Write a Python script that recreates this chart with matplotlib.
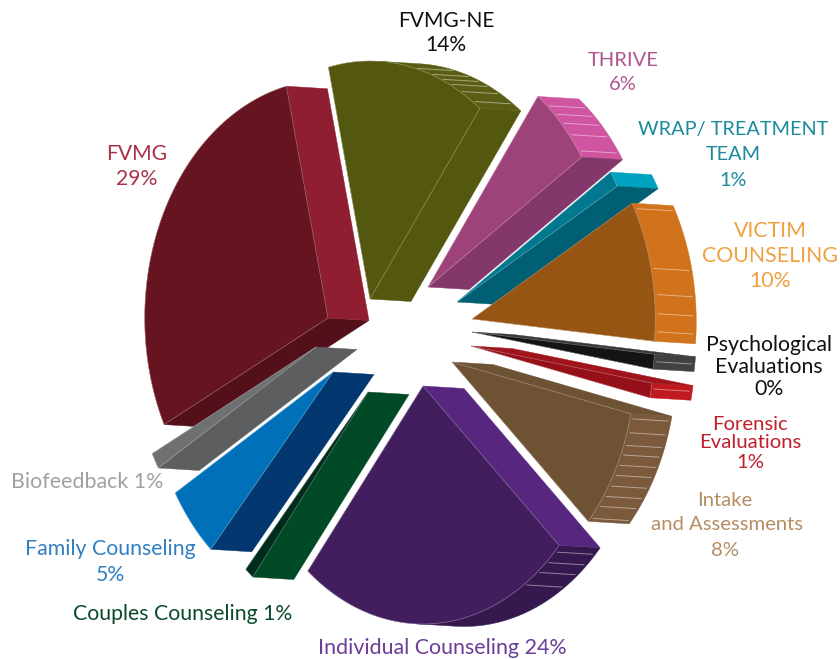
import numpy as np
import matplotlib
matplotlib.use('Agg')
import matplotlib.pyplot as plt

plt.rcParams['font.family'] = ['Lato', 'DejaVu Sans']

## data, clockwise from the FVMG slice
categories = ['FVMG', 'FVMG-NE', 'THRIVE', 'WRAP/ TREATMENT TEAM', 'VICTIM COUNSELING',
              'Psychological Evaluations', 'Forensic Evaluations', 'Intake and Assessments',
              'Individual Counseling', 'Couples Counseling', 'Family Counseling', 'Biofeedback']
printed_pct = [29, 14, 6, 1, 10, 0, 1, 8, 24, 1, 5, 1]
# shares as measured off the wedges, the printed numbers are rounded
shares = [28.8, 13.9, 5.6, 1.1, 9.6, 1.0, 1.0, 8.2, 24.2, 0.8, 4.9, 1.1]

## look of the slices
start_angle = 206.6
radius = 238
squash = 0.77
depth = (41, 2.5)
tips = [(328, 318), (370, 299), (428, 287), (457, 302), (472, 319), (472, 332),
        (471, 346), (452, 362), (423, 386), (368, 392), (333, 372), (316, 347)]
face_col = ['#661520', '#54580f', '#9e437a', '#00788f', '#965513', '#141414',
            '#96101a', '#6d5233', '#421e5f', '#002c1c', '#0070b8', '#6f7072']
start_wall = ['#54101a', '#54580f', '#9e437a', '#00788f', '#965513', '#3a3a3c',
              '#a0141c', '#6d5233', '#572780', '#004a27', '#02386f', '#5d5e60']
end_wall = ['#8f1f30', '#54580f', '#84376a', '#005f73', '#965513', '#141414',
            '#96101a', '#6d5233', '#421e5f', '#004a27', '#0070b8', '#6f7072']
rim_col = ['#8f1f30', '#5a5e14', '#cf55a0', '#00a3bf', '#d1731c', '#404143',
           '#bf1a20', '#7a5a3b', '#35194e', '#004a27', '#02386f', '#5d5e60']
# where the pale rules sit, as fractions of the rim's height
rim_rules = [[], [.15, .28, .38, .49, .64, .85], [.15, .29, .44, .63, .89], [],
             [.04, .47, .66, .80, .93], [.5], [.4],
             [.05, .18, .29, .38, .48, .57, .67, .77, .86, .97],
             [.09, .21, .34, .51], [], [], []]

label_col = ['#a83248', '#111111', '#b0558f', '#1a8a9c', '#f0a040', '#111111',
             '#c0202c', '#b58d62', '#6a3d96', '#0b4a2b', '#2f7fc1', '#a0a0a0']
label_lines = [['FVMG', '{}%'], ['FVMG-NE', '{}%'], ['THRIVE', '{}%'],
               ['WRAP/ TREATMENT', 'TEAM', '{}%'], ['VICTIM', 'COUNSELING', '{}%'],
               ['Psychological', 'Evaluations', '{}%'], ['Forensic', 'Evaluations', '{}%'],
               ['Intake', ' and Assessments', '{}%'], ['Individual Counseling {}%'],
               ['Couples Counseling {}%'], ['Family Counseling', '{}%'], ['Biofeedback {}%']]
label_pos = [(137, 154), (446, 21), (623, 61), (733, 130), (770, 231), (769, 345),
             (750, 424), (725, 500), (442, 648), (183, 614), (110, 549), (87, 482)]
line_gap = [25, 24, 24, 25, 25, 22, 19, 25, 0, 0, 26, 0]
label_size = [15.2, 15.1, 14.5, 14.3, 15.3, 15.3, 14.6, 14.6, 15.4, 15.3, 15.3, 15.4]


def arc(tip, a0, a1, n=120):
    t = np.radians(np.linspace(a0, a1, n))
    pts = np.column_stack((tip[0] + radius * squash * np.cos(t),
                           tip[1] - radius * np.sin(t)))
    # only the part of the rim turned towards the viewer
    facing = np.cos(t) / squash * depth[0] - np.sin(t) * depth[1] > 0
    return pts, facing


def cross(a, b):
    return a[0] * b[1] - a[1] * b[0]


fig = plt.figure(figsize=(8.4, 6.6), dpi=100)
ax = fig.add_axes([0, 0, 1, 1])
ax.set_xlim(0, 840)
ax.set_ylim(660, 0)
ax.axis('off')

edges = start_angle - np.cumsum([0] + shares) * 360.0 / sum(shares)
shift = np.array(depth)

for i in range(len(shares)):
    tip = np.array(tips[i], dtype=float)
    rim, facing = arc(tip, edges[i], edges[i + 1])
    first, last = rim[0], rim[-1]

    seen = rim[facing]
    if len(seen) > 1:
        ax.fill(*np.vstack((seen, (seen + shift)[::-1])).T, color=rim_col[i], lw=0.3)
        # thin pale rules across the rim
        for f in rim_rules[i]:
            y = seen[:, 1].min() + f * np.ptp(seen[:, 1])
            p = seen[np.argmin(np.abs(seen[:, 1] - y))]
            ax.plot([p[0] + 3, p[0] + shift[0] - 3], [p[1] + 0.2, p[1] + shift[1] - 0.2],
                    color='white', alpha=0.45, lw=0.7)

    # a radial wall shows only when the depth points away from the face
    if cross(first - tip, shift) * cross(first - tip, last - tip) < 0:
        ax.fill(*np.vstack((tip, first, first + shift, tip + shift)).T, color=start_wall[i], lw=0.3)
    if cross(last - tip, shift) * cross(last - tip, first - tip) < 0:
        ax.fill(*np.vstack((tip, last, last + shift, tip + shift)).T, color=end_wall[i], lw=0.3)

    ax.fill(*np.vstack((tip, rim)).T, color=face_col[i], lw=0.3)

    # pale seams round the face
    seam = np.vstack((tip, rim, tip))
    ax.plot(seam[:, 0], seam[:, 1], color='white', alpha=0.3, lw=0.5)

for i, lines in enumerate(label_lines):
    for k, line in enumerate(lines):
        ax.text(label_pos[i][0], label_pos[i][1] + k * line_gap[i], line.format(printed_pct[i]),
                color=label_col[i], fontsize=label_size[i], ha='center', va='center')

fig.savefig('out.png', dpi=100)
